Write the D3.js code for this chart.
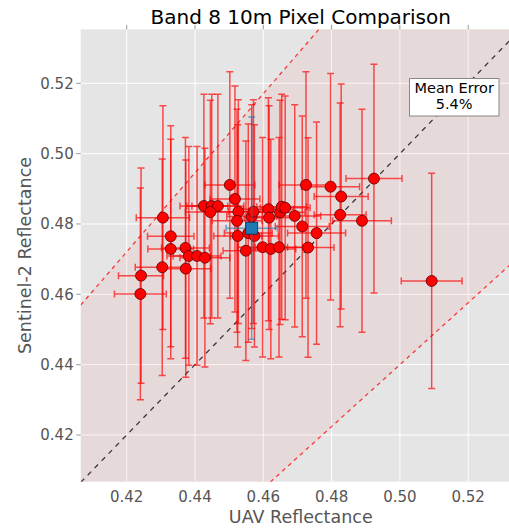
<!DOCTYPE html>
<html><head><meta charset="utf-8">
<script src="https://cdn.jsdelivr.net/npm/d3@7"></script>
<style>body{margin:0;background:#fff;} svg{display:block;font-family:"DejaVu Sans",sans-serif;}</style>
</head><body><svg id="c" width="509" height="530"></svg>
<script>
// ---- data ----
const uavX = [0.4240,0.4242,0.4304,0.4306,0.4329,0.4329,0.4372,0.4373,0.4382,0.4406,0.4429,0.4426,0.4449,0.4467,0.4445,0.4502,0.4517,0.4527,0.4523,0.4525,0.4549,0.4556,0.4566,0.4571,0.4574,0.4598,0.4615,0.4617,0.4622,0.4646,0.4649,0.4654,0.4664,0.4692,0.4714,0.4725,0.4731,0.4756,0.4797,0.4825,0.4828,0.4889,0.4924,0.5093];
const s2Y  = [0.4601,0.4653,0.4677,0.4818,0.4765,0.4729,0.4732,0.4673,0.4709,0.4709,0.4704,0.4851,0.4851,0.4851,0.4834,0.4911,0.4871,0.4835,0.4809,0.4766,0.4724,0.4774,0.4821,0.4835,0.4766,0.4734,0.4842,0.4818,0.4729,0.4734,0.4833,0.4849,0.4846,0.4823,0.4793,0.4911,0.4733,0.4774,0.4906,0.4826,0.4878,0.4809,0.4929,0.4638];
const xErr = [0.0076,0.0066,0.0079,0.0078,0.0068,0.0067,0.0070,0.0073,0.0064,0.0070,0.0073,0.0070,0.0073,0.0076,0.0073,0.0073,0.0073,0.0070,0.0073,0.0070,0.0067,0.0070,0.0073,0.0073,0.0070,0.0073,0.0073,0.0073,0.0073,0.0070,0.0073,0.0073,0.0073,0.0076,0.0079,0.0079,0.0076,0.0085,0.0085,0.0076,0.0079,0.0086,0.0082,0.0089];
const yErr = [0.0301,0.0306,0.0308,0.0318,0.0314,0.0312,0.0314,0.0309,0.0311,0.0311,0.0311,0.0318,0.0318,0.0318,0.0318,0.0322,0.0321,0.0318,0.0317,0.0316,0.0312,0.0310,0.0318,0.0318,0.0316,0.0312,0.0317,0.0318,0.0312,0.0312,0.0319,0.0320,0.0318,0.0316,0.0314,0.0322,0.0312,0.0316,0.0322,0.0318,0.0320,0.0317,0.0325,0.0306];
const meanX = [0.4566], meanY = [0.4788], meanXErr = [0.0075], meanYErr = [0.0316];
const boundSlopes = [1.124, 0.88];      // upper / lower error envelope (y = k·x)
const xTicks = [0.42,0.44,0.46,0.48,0.50,0.52];
const yTicks = [0.42,0.44,0.46,0.48,0.50,0.52];
const titleText = "Band 8 10m Pixel Comparison";
const xLabel = "UAV Reflectance", yLabel = "Sentinel-2 Reflectance";
const boxLines = ["Mean Error","5.4%"];

// ---- layout ----
const L=80.7, T=29.3, B=481.7, R=520.8;
const x = d3.scaleLinear().domain([0.40653,0.5354]).range([L,R]);
const y = d3.scaleLinear().domain([0.40672,0.53535]).range([B,T]);
const svg = d3.select("#c");
svg.append("defs").append("clipPath").attr("id","pc").append("rect")
  .attr("x",L).attr("y",T).attr("width",R-L).attr("height",B-T);

svg.append("rect").attr("x",L).attr("y",T).attr("width",R-L).attr("height",B-T).attr("fill","#E5E5E5");
const g = svg.append("g").attr("clip-path","url(#pc)");
// grid
g.selectAll(".gx").data(xTicks).join("line").attr("x1",d=>x(d)).attr("x2",d=>x(d)).attr("y1",T).attr("y2",B)
  .attr("stroke","#fff").attr("stroke-width",1);
g.selectAll(".gy").data(yTicks).join("line").attr("y1",d=>y(d)).attr("y2",d=>y(d)).attr("x1",L).attr("x2",R)
  .attr("stroke","#fff").attr("stroke-width",1);
// envelope fill
const [x0,x1] = x.domain();
const poly = [[x0,boundSlopes[0]*x0],[x1,boundSlopes[0]*x1],[x1,boundSlopes[1]*x1],[x0,boundSlopes[1]*x0]];
g.append("path").attr("d",d3.line().x(d=>x(d[0])).y(d=>y(d[1]))(poly)+"Z").attr("fill","red").attr("fill-opacity",0.05);
// bound lines
boundSlopes.forEach(k=>{
  g.append("line").attr("x1",x(x0)).attr("y1",y(k*x0)).attr("x2",x(x1)).attr("y2",y(k*x1))
   .attr("stroke","red").attr("stroke-opacity",0.75).attr("stroke-width",1.3).attr("stroke-dasharray","4,4");
});
// 1:1 line
g.append("line").attr("x1",x(x0)).attr("y1",y(x0)).attr("x2",x(x1)).attr("y2",y(x1))
  .attr("stroke","#000").attr("stroke-opacity",0.75).attr("stroke-width",1.3).attr("stroke-dasharray","5,5");

// error bars
const idx = d3.range(uavX.length);
const eb = g.append("g").attr("stroke","red").attr("stroke-opacity",0.68).attr("stroke-width",1.5).attr("fill","none");
const cap=3.5;
idx.forEach(i=>{
  const cx=x(uavX[i]), cy=y(s2Y[i]);
  const ya=y(s2Y[i]+yErr[i]), yb=y(s2Y[i]-yErr[i]);
  const xa=x(uavX[i]-xErr[i]), xb=x(uavX[i]+xErr[i]);
  eb.append("path").attr("d",`M${cx},${ya}V${yb}M${cx-cap},${ya}H${cx+cap}M${cx-cap},${yb}H${cx+cap}`);
  eb.append("path").attr("d",`M${xa},${cy}H${xb}M${xa},${cy-cap}V${cy+cap}M${xb},${cy-cap}V${cy+cap}`);
});
// markers
g.selectAll(".pt").data(idx).join("circle").attr("cx",i=>x(uavX[i])).attr("cy",i=>y(s2Y[i])).attr("r",5.5)
  .attr("fill","red").attr("stroke","#5a0000").attr("stroke-width",0.8);
// mean marker
const be = g.append("g").attr("stroke","#1f77b4").attr("stroke-opacity",0.6).attr("stroke-width",1.5);
meanX.forEach((mx,i)=>{
  const cx=x(mx), cy=y(meanY[i]);
  const ya=y(meanY[i]+meanYErr[i]), yb=y(meanY[i]-meanYErr[i]);
  const xa=x(mx-meanXErr[i]), xb=x(mx+meanXErr[i]);
  be.append("path").attr("d",`M${cx},${ya}V${yb}M${cx-cap},${ya}H${cx+cap}M${cx-cap},${yb}H${cx+cap}M${xa},${cy}H${xb}M${xa},${cy-cap}V${cy+cap}M${xb},${cy-cap}V${cy+cap}`);
  g.append("rect").attr("x",cx-6).attr("y",cy-6).attr("width",12).attr("height",12)
   .attr("fill","#1f77b4").attr("stroke","#0b2a40").attr("stroke-width",0.8);
});

// ticks (top & left, outward)
svg.selectAll(".tt").data(xTicks).join("line").attr("x1",d=>x(d)).attr("x2",d=>x(d)).attr("y1",T).attr("y2",T-4.5)
  .attr("stroke","#999").attr("stroke-width",1);
svg.selectAll(".tl").data(yTicks).join("line").attr("y1",d=>y(d)).attr("y2",d=>y(d)).attr("x1",L).attr("x2",L-4.5)
  .attr("stroke","#999").attr("stroke-width",1);
// tick labels
svg.selectAll(".xl").data(xTicks).join("text").attr("x",d=>x(d)).attr("y",502).attr("text-anchor","middle")
  .attr("font-size",15).attr("fill","#555").text(d=>d3.format(".2f")(d));
svg.selectAll(".yl").data(yTicks).join("text").attr("x",L-7).attr("y",d=>y(d)+5.3).attr("text-anchor","end")
  .attr("font-size",15).attr("fill","#555").text(d=>d3.format(".2f")(d));
// axis labels
svg.append("text").attr("x",(L+R)/2).attr("y",523).attr("text-anchor","middle").attr("font-size",17.5).attr("fill","#555").text(xLabel);
svg.append("text").attr("transform",`translate(31,${(T+B)/2}) rotate(-90)`).attr("text-anchor","middle").attr("font-size",17.5).attr("fill","#555").text(yLabel);
// title
svg.append("text").attr("x",(L+R)/2).attr("y",23.5).attr("text-anchor","middle").attr("font-size",20).attr("fill","#000").text(titleText);
// annotation box
svg.append("rect").attr("x",409.5).attr("y",78.5).attr("width",89.5).attr("height",37.5).attr("fill","#fff").attr("stroke","#888").attr("stroke-width",1);
boxLines.forEach((t,i)=>svg.append("text").attr("x",454.2).attr("y",92.8+i*16.6).attr("text-anchor","middle").attr("font-size",14.5).attr("fill","#000").text(t));
</script></body></html>
